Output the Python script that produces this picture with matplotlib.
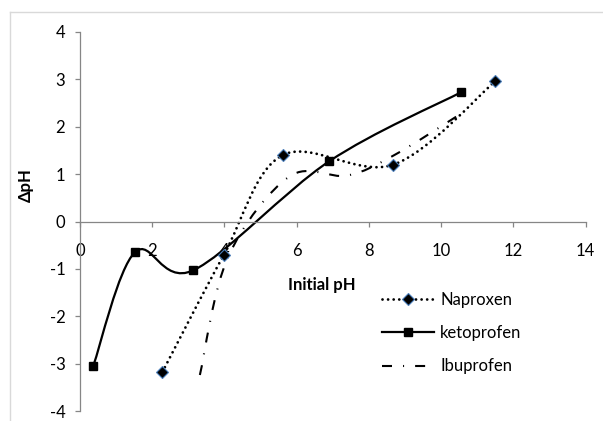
import numpy as np
import matplotlib
matplotlib.use("Agg")
import matplotlib.pyplot as plt
from matplotlib.path import Path
from matplotlib.patches import PathPatch
from matplotlib.lines import Line2D

plt.rcParams['font.family'] = ['Lato', 'DejaVu Sans']
plt.rcParams['axes.unicode_minus'] = False

# values
naproxen_x = [2.28, 3.98, 5.61, 8.68, 11.5]
naproxen_y = [-3.18, -0.71, 1.40, 1.20, 2.96]

ketoprofen_x = [0.37, 1.52, 3.14, 6.9, 10.56]
ketoprofen_y = [-3.04, -0.65, -1.03, 1.27, 2.73]

ibuprofen_x = [3.32, 4.1, 5.8, 7.4, 8.7, 10.6]
ibuprofen_y = [-3.24, -0.75, 0.95, 0.97, 1.40, 2.30]

x_ticks = [0, 2, 4, 6, 8, 10, 12, 14]
y_ticks = [-4, -3, -2, -1, 0, 1, 2, 3, 4]


def smooth_path(xs, ys):
    # excel style smoothed line: cubic bezier segments through the points
    pts = np.column_stack([xs, ys])
    n = len(pts)
    verts = [pts[0]]
    codes = [Path.MOVETO]
    for i in range(n - 1):
        p0 = pts[i - 1] if i > 0 else pts[i]
        p1 = pts[i]
        p2 = pts[i + 1]
        p3 = pts[i + 2] if i + 2 < n else pts[i + 1]
        c1 = p1 + (p2 - p0) / 6.0
        c2 = p2 - (p3 - p1) / 6.0
        verts += [c1, c2, p2]
        codes += [Path.CURVE4] * 3
    return Path(verts, codes)


fig = plt.figure(figsize=(6.03, 4.21), dpi=100)
ax = fig.add_axes([80 / 603, 1 - 411 / 421, 505.5 / 603, 379 / 421])

dotted = (0, (0.01, 2.0))
dashdot = (0, (4.8, 5.3, 0.5, 5.3))
fs = 12

ax.add_patch(PathPatch(smooth_path(naproxen_x, naproxen_y), fill=False,
                       edgecolor='black', lw=2.0, linestyle=dotted,
                       capstyle='round'))
ax.add_patch(PathPatch(smooth_path(ketoprofen_x, ketoprofen_y), fill=False,
                       edgecolor='black', lw=1.6))
ax.add_patch(PathPatch(smooth_path(ibuprofen_x, ibuprofen_y), fill=False,
                       edgecolor='black', lw=1.5, linestyle=dashdot))

ax.plot(naproxen_x, naproxen_y, linestyle='none', marker='D', ms=5.8,
        markerfacecolor='black', markeredgecolor='#4a7ebb', markeredgewidth=0.8)
ax.plot(ketoprofen_x, ketoprofen_y, linestyle='none', marker='s', ms=5.8,
        color='black')

ax.set_xlim(0, 14)
ax.set_ylim(-4, 4)
ax.set_xticks(x_ticks)
ax.set_yticks(y_ticks)

for s in ['top', 'right']:
    ax.spines[s].set_visible(False)
ax.spines['bottom'].set_position(('data', 0))
for s in ['left', 'bottom']:
    ax.spines[s].set_color('#868686')
    ax.spines[s].set_linewidth(0.9)

ax.tick_params(axis='both', direction='out', length=3.6, width=0.9,
               color='#868686', labelsize=fs, labelcolor='black')
ax.tick_params(axis='x', pad=12)
ax.tick_params(axis='y', pad=7)

fig.text(322 / 603, 1 - 285 / 421, 'Initial pH', ha='center', va='center',
         fontsize=fs, fontweight='bold')
fig.text(26 / 603, 1 - 185 / 421, 'ΔpH', ha='center', va='center',
         rotation=90, fontsize=fs, fontweight='bold')

handles = [
    Line2D([], [], color='black', lw=2.0, linestyle=dotted,
           dash_capstyle='round', marker='D', ms=5.8,
           markerfacecolor='black', markeredgecolor='#4a7ebb',
           markeredgewidth=0.8),
    Line2D([], [], color='black', lw=1.6, marker='s', ms=5.8),
    Line2D([], [], color='black', lw=1.5, linestyle=dashdot),
]
fig.legend(handles, ['Naproxen', 'ketoprofen', 'Ibuprofen'],
           loc='center left', bbox_to_anchor=(382 / 603, 1 - 333 / 421),
           bbox_transform=fig.transFigure, frameon=False, fontsize=fs,
           handlelength=3.1, handletextpad=0.4, labelspacing=1.05,
           borderpad=0, borderaxespad=0)

# light grey chart border
fig.add_artist(Line2D([9.5 / 603, 9.5 / 603], [0, 1 - 12 / 421],
                      transform=fig.transFigure, color='#d9d9d9', lw=1))
fig.add_artist(Line2D([9.5 / 603, 1], [1 - 12 / 421, 1 - 12 / 421],
                      transform=fig.transFigure, color='#d9d9d9', lw=1))

fig.savefig('out.png', dpi=100)
